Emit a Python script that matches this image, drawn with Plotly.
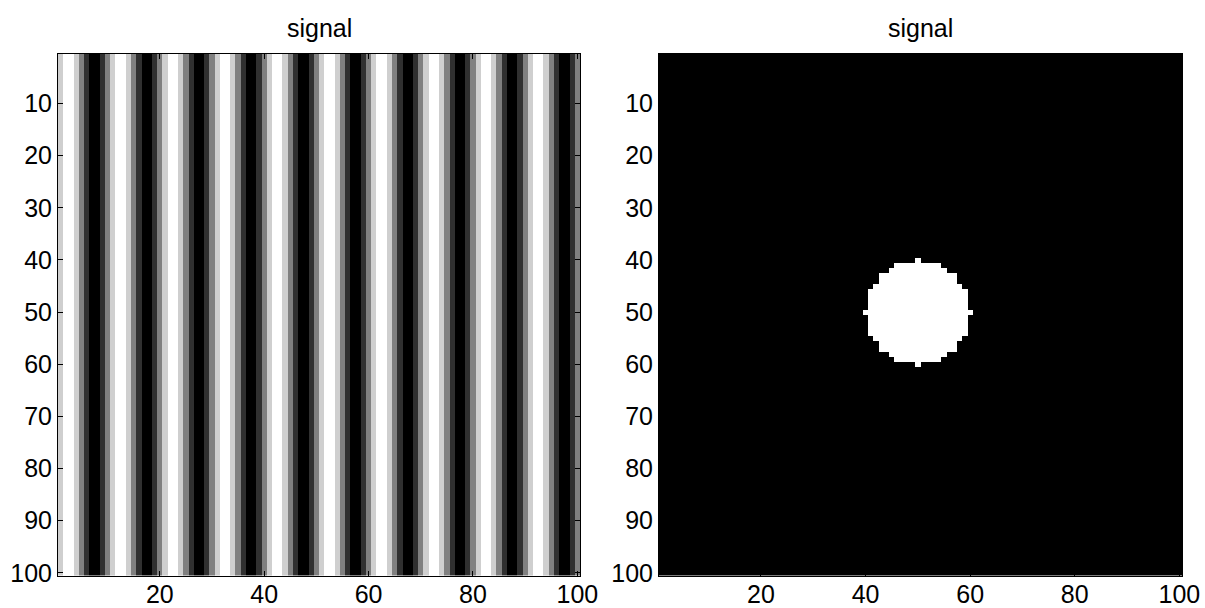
import plotly.graph_objects as go

# ---- data ----
n_rows = 100
n_cols = 100
# left image: grey level (0=black, 1=white) of each column within one 10-column stripe period
stripe_period_levels = [0.81, 1.0, 1.0, 0.81, 0.5, 0.19, 0.0, 0.0, 0.19, 0.5]
# right image: white disk on black; half-width (in cells) of each row at |row-offset| 0..10
disk_center_row = 50
disk_center_col = 50
disk_half_widths = [10, 9, 9, 9, 9, 8, 7, 7, 5, 4, 0]

x_ticks = [20, 40, 60, 80, 100]
y_ticks = [10, 20, 30, 40, 50, 60, 70, 80, 90, 100]
titles = ["signal", "signal"]

# ---- build images ----
cols = list(range(1, n_cols + 1))
rows = list(range(1, n_rows + 1))
stripe_row = [stripe_period_levels[(c - 1) % len(stripe_period_levels)] for c in cols]
z_left = [list(stripe_row) for _ in rows]

z_right = []
for r in rows:
    dy = abs(r - disk_center_row)
    row = []
    for c in cols:
        dx = abs(c - disk_center_col)
        inside = dy < len(disk_half_widths) and dx <= disk_half_widths[dy]
        row.append(1.0 if inside else 0.0)
    z_right.append(row)

gray = [[0, "rgb(0,0,0)"], [1, "rgb(255,255,255)"]]

fig = go.Figure()
fig.add_trace(go.Heatmap(z=z_left, x=cols, y=rows, colorscale=gray, zmin=0, zmax=1,
                         showscale=False, xaxis="x", yaxis="y", hoverinfo="skip"))
fig.add_trace(go.Heatmap(z=z_right, x=cols, y=rows, colorscale=gray, zmin=0, zmax=1,
                         showscale=False, xaxis="x2", yaxis="y2", hoverinfo="skip"))

W, H = 1205, 608
font = dict(family="Liberation Sans, Arial, sans-serif", size=25, color="black")

def xaxis(domain, anchor):
    return dict(domain=domain, anchor=anchor, range=[0.5, 100.5], tickvals=x_ticks,
                ticks="inside", ticklen=5, tickcolor="black", tickwidth=1,
                showline=True, linecolor="black", linewidth=1, mirror="ticks",
                showgrid=False, zeroline=False, tickfont=font, automargin=False,
                ticklabelstandoff=-4)

def yaxis(domain, anchor):
    return dict(domain=domain, anchor=anchor, range=[100.5, 0.5], tickvals=y_ticks,
                ticks="inside", ticklen=5, tickcolor="black", tickwidth=1,
                showline=True, linecolor="black", linewidth=1, mirror="ticks",
                showgrid=False, zeroline=False, tickfont=font, automargin=False)

yd = [1 - 575.5 / H, 1 - 54 / H]
xd1 = [58 / W, 580 / W]
xd2 = [659 / W, 1182 / W]

fig.update_layout(
    width=W, height=H,
    margin=dict(l=0, r=0, t=0, b=0, pad=0, autoexpand=False),
    paper_bgcolor="white", plot_bgcolor="white",
    font=font,
    xaxis=xaxis(xd1, "y"), yaxis=yaxis(yd, "x"),
    xaxis2=xaxis(xd2, "y2"), yaxis2=yaxis(yd, "x2"),
    showlegend=False,
)

for t, d in zip(titles, [xd1, xd2]):
    fig.add_annotation(text=t, x=(d[0] + d[1]) / 2, y=1 - 28 / H, xref="paper", yref="paper",
                       xanchor="center", yanchor="middle", showarrow=False, font=font)

fig.write_html("out.html", config={"displayModeBar": False},
               post_script="document.body.style.margin='0';document.body.style.overflow='hidden';")
